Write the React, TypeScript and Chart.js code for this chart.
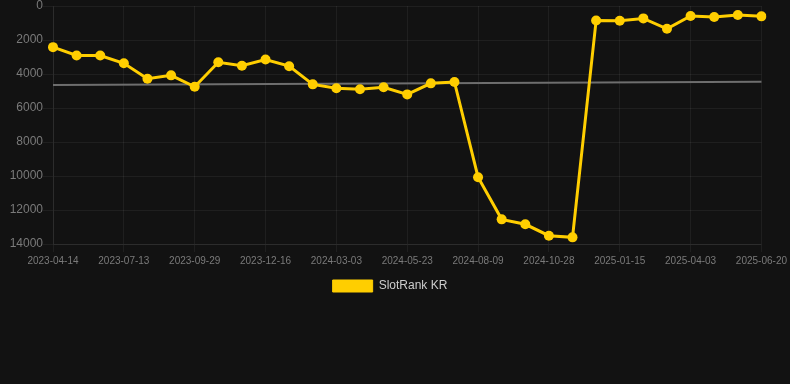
import React, { useEffect, useRef } from "react";
import { Chart, registerables } from "chart.js";

Chart.register(...registerables);

const dates: string[] = [
  "2023-04-14", "2023-05-14", "2023-06-13", "2023-07-13", "2023-08-08", "2023-09-03",
  "2023-09-29", "2023-10-25", "2023-11-20", "2023-12-16", "2024-01-11", "2024-02-06",
  "2024-03-03", "2024-03-30", "2024-04-26", "2024-05-23", "2024-06-18", "2024-07-14",
  "2024-08-09", "2024-09-04", "2024-10-01", "2024-10-28", "2024-11-23", "2024-12-20",
  "2025-01-15", "2025-02-10", "2025-03-08", "2025-04-03", "2025-04-29", "2025-05-25",
  "2025-06-20",
];

const slotRankKR: number[] = [
  2420, 2910, 2910, 3370, 4280, 4080, 4750, 3310, 3510, 3150, 3540,
  4610, 4840, 4900, 4780, 5200, 4550, 4470, 10070, 12550, 12840, 13510,
  13610, 850, 870, 730, 1340, 590, 650, 530, 610,
];

const trendStart = 4650;
const trendEnd = 4450;
const trend: (number | null)[] = dates.map((_, i) =>
  i === 0 ? trendStart : i === dates.length - 1 ? trendEnd : null
);

const yTicks = { min: 0, max: 14000, step: 2000 };

export default function App() {
  const ref = useRef<HTMLCanvasElement | null>(null);
  useEffect(() => {
    document.body.style.margin = "0";
    const ctx = ref.current!.getContext("2d")!;
    const gridColor = "rgba(255,255,255,0.06)";
    const chart = new Chart(ctx, {
      type: "line",
      data: {
        labels: dates,
        datasets: [
          {
            label: "SlotRank KR",
            data: slotRankKR,
            borderColor: "#FFCE00",
            backgroundColor: "#FFCE00",
            borderWidth: 3,
            pointRadius: 5,
            pointBackgroundColor: "#FFCE00",
            pointBorderColor: "#FFCE00",
            pointBorderWidth: 0,
            tension: 0,
            order: 1,
          },
          {
            label: "trend",
            data: trend,
            borderColor: "#6e6e6e",
            borderWidth: 2,
            pointRadius: 0,
            spanGaps: true,
            order: 2,
          },
        ],
      },
      options: {
        animation: false,
        responsive: true,
        maintainAspectRatio: false,
        layout: { padding: { left: 0, right: 10, top: 0, bottom: 0 } },
        plugins: {
          legend: {
            position: "bottom",
            labels: {
              color: "#cccccc",
              font: { family: "Arial, 'Liberation Sans', sans-serif", size: 12 },
              boxWidth: 40,
              boxHeight: 12,
              filter: (item: any) => item.datasetIndex === 0,
              generateLabels: (ch: any) =>
                Chart.defaults.plugins.legend.labels
                  .generateLabels(ch)
                  .map((l: any) => ({ ...l, lineWidth: 1 })),
            },
          },
          tooltip: { enabled: false },
        },
        scales: {
          x: {
            grid: {
              color: (c: any) => (c.index % 3 === 0 ? gridColor : "rgba(0,0,0,0)"),
              tickLength: 8,
            },
            border: { color: gridColor },
            ticks: {
              autoSkip: false,
              maxRotation: 0,
              color: "#7a7a7a",
              font: { family: "Arial, 'Liberation Sans', sans-serif", size: 10 },
              callback: (_v: any, i: number) => (i % 3 === 0 ? dates[i] : ""),
            },
          },
          y: {
            reverse: true,
            min: yTicks.min,
            max: yTicks.max,
            grid: { color: gridColor, tickLength: 10 },
            border: { color: gridColor },
            afterFit: (scale: any) => {
              scale.width = 53;
            },
            ticks: {
              stepSize: yTicks.step,
              padding: 0,
              color: "#7a7a7a",
              font: { family: "Arial, 'Liberation Sans', sans-serif", size: 12, lineHeight: 1 },
              callback: (v: any) => String(v),
            },
          },
        },
      },
    });
    return () => chart.destroy();
  }, []);
  return (
    <div style={{ position: "fixed", left: 0, top: 0, width: 790, height: 384, background: "#121212" }}>
      <div style={{ width: 790, height: 302 }}>
        <canvas ref={ref} />
      </div>
    </div>
  );
}
